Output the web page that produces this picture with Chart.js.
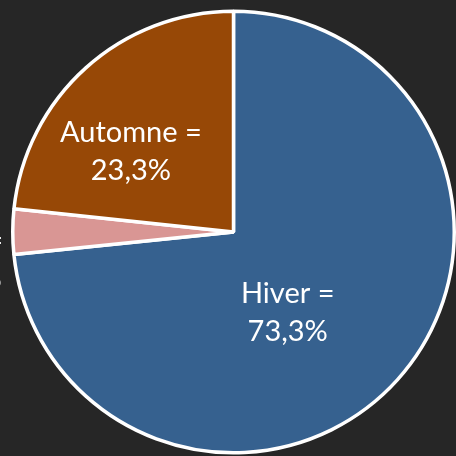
<!DOCTYPE html>
<html>
<head>
<meta charset="utf-8">
<script src="https://cdn.jsdelivr.net/npm/chart.js@4"></script>
<style>
    html, body { margin: 0; padding: 0; background: #262626; }
    canvas { display: block; }
</style>
</head>
<body>
<canvas class="js-seasons-chart" width="456" height="456"></canvas>
<script>
const seasons = ['Hiver', 'Été', 'Automne']
const shares = [73.3, 3.3, 23.3]
const colors = ['#36618f', '#d99694', '#974806']

// where each label sits: fraction of the radius, and angle shift (deg) from the slice middle
const labelPlacement = [
    { frac: 0.44, shift: 14 },
    { frac: 1.20, shift: -6 },
    { frac: 0.59, shift: -10 },
]

const sliceLabels = {
    id: 'sliceLabels',
    afterDatasetsDraw(chart) {
        const ctx = chart.ctx
        const arcs = chart.getDatasetMeta(0).data
        ctx.save()
        ctx.fillStyle = '#ffffff'
        ctx.font = '29px Lato'
        ctx.textAlign = 'center'
        ctx.textBaseline = 'middle'
        arcs.forEach((arc, i) => {
            const p = labelPlacement[i]
            const mid = (arc.startAngle + arc.endAngle) / 2 + p.shift * Math.PI / 180
            const r = arc.outerRadius * p.frac
            const x = arc.x + Math.cos(mid) * r
            const y = arc.y + Math.sin(mid) * r
            const value = shares[i].toFixed(1).replace('.', ',') + '%'
            ctx.fillText(seasons[i] + ' =', x, y - 19)
            ctx.fillText(value, x, y + 19)
        })
        ctx.restore()
    }
}

document.addEventListener('DOMContentLoaded', () => {
    const ctx = document.querySelector('.js-seasons-chart')
    new Chart(ctx, {
        type: 'pie',
        data: {
            labels: seasons,
            datasets: [{
                data: shares,
                backgroundColor: colors,
                borderColor: '#ffffff',
                borderWidth: 3.5
            }]
        },
        options: {
            responsive: false,
            animation: false,
            layout: {
                padding: { left: 11, right: 0, top: 9, bottom: 1 }
            },
            plugins: {
                legend: { display: false },
                tooltip: { enabled: false }
            }
        },
        plugins: [sliceLabels]
    })
})
</script>
</body>
</html>
